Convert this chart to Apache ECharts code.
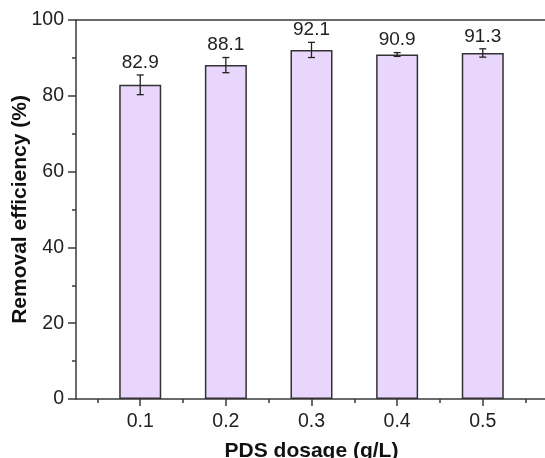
<!DOCTYPE html>
<html>
<head>
<meta charset="utf-8">
<script src="https://cdn.jsdelivr.net/npm/echarts@6/dist/echarts.min.js"></script>
<style>
  html, body { margin: 0; padding: 0; background: #fff; }
  #main { width: 545px; height: 458px; }
</style>
</head>
<body>
<div id="main"></div>
<script>
// PDS dosage (g/L) and removal efficiency (%)
const dosages = [0.1, 0.2, 0.3, 0.4, 0.5]
const efficiency = [82.9, 88.1, 92.1, 90.9, 91.3]
const errors = [2.6, 2.0, 2.0, 0.5, 1.1]
const xMajorTicks = [0.1, 0.2, 0.3, 0.4, 0.5]
const xMinorTicks = [0.05, 0.15, 0.25, 0.35, 0.45, 0.55]

const chart = echarts.init(document.getElementById('main'))
const font = 'Liberation Sans, Arial, sans-serif'
const axisColor = '#3a3a3a'

const barData = dosages.map((d, i) => [d, efficiency[i]])
const errData = dosages.map((d, i) => [d, efficiency[i] - errors[i], efficiency[i] + errors[i], efficiency[i]])

const option = {
  animation: false,
  grid: { left: 76, right: -2, top: 20, bottom: 59, outerBoundsMode: 'none' },
  xAxis: [
    {
      type: 'value', min: 0.025, max: 0.575, position: 'bottom',
      name: 'PDS dosage (g/L)', nameLocation: 'middle', nameGap: 42, nameMoveOverlap: false,
      nameTextStyle: { fontFamily: font, fontSize: 21, fontWeight: 'bold', color: '#111' },
      axisLine: { show: true, lineStyle: { color: axisColor, width: 1.5 } },
      axisTick: { show: true, customValues: xMajorTicks, length: 7, lineStyle: { color: axisColor, width: 1.5 } },
      axisLabel: { customValues: xMajorTicks, margin: 13, fontFamily: font, fontSize: 19.5, color: '#222', formatter: v => v.toFixed(1) },
      splitLine: { show: false }
    },
    {
      type: 'value', min: 0.025, max: 0.575, position: 'bottom',
      axisLine: { show: false },
      axisTick: { show: true, customValues: xMinorTicks, length: 4, lineStyle: { color: axisColor, width: 1.5 } },
      axisLabel: { show: false },
      splitLine: { show: false }
    },
    {
      type: 'value', min: 0.025, max: 0.575, position: 'top',
      axisLine: { show: true, lineStyle: { color: axisColor, width: 1.5 } },
      axisTick: { show: false }, axisLabel: { show: false }, splitLine: { show: false }
    }
  ],
  yAxis: {
    type: 'value', min: 0, max: 100, interval: 20,
    name: 'Removal efficiency (%)', nameLocation: 'middle', nameGap: 45, nameMoveOverlap: false,
    nameTextStyle: { fontFamily: font, fontSize: 21, fontWeight: 'bold', color: '#111' },
    axisLine: { show: true, lineStyle: { color: axisColor, width: 1.5 } },
    axisTick: { show: true, length: 8, lineStyle: { color: axisColor, width: 1.5 } },
    minorTick: { show: true, splitNumber: 2, length: 4, lineStyle: { color: axisColor, width: 1.5 } },
    axisLabel: { margin: 12, fontFamily: font, fontSize: 19.5, color: '#222' },
    splitLine: { show: false }
  },
  series: [
    {
      type: 'bar',
      xAxisIndex: 0,
      data: barData,
      barWidth: 42,
      itemStyle: { color: '#e8d6fc', borderColor: '#333', borderWidth: 1.5 }
    },
    {
      type: 'custom',
      xAxisIndex: 0,
      data: errData,
      z: 10,
      renderItem: function (params, api) {
        const x = api.value(0)
        const lo = api.coord([x, api.value(1)])
        const hi = api.coord([x, api.value(2)])
        const cap = 3.5
        const style = { stroke: '#222', lineWidth: 1.3 }
        return {
          type: 'group',
          children: [
            { type: 'line', shape: { x1: hi[0], y1: hi[1], x2: lo[0], y2: lo[1] }, style },
            { type: 'line', shape: { x1: hi[0] - cap, y1: hi[1], x2: hi[0] + cap, y2: hi[1] }, style },
            { type: 'line', shape: { x1: lo[0] - cap, y1: lo[1], x2: lo[0] + cap, y2: lo[1] }, style },
            {
              type: 'text',
              style: {
                x: hi[0], y: hi[1] - 3,
                text: api.value(3).toFixed(1),
                align: 'center', verticalAlign: 'bottom',
                font: '19px ' + font, fill: '#222'
              }
            }
          ]
        }
      }
    }
  ]
}
chart.setOption(option)
</script>
</body>
</html>
